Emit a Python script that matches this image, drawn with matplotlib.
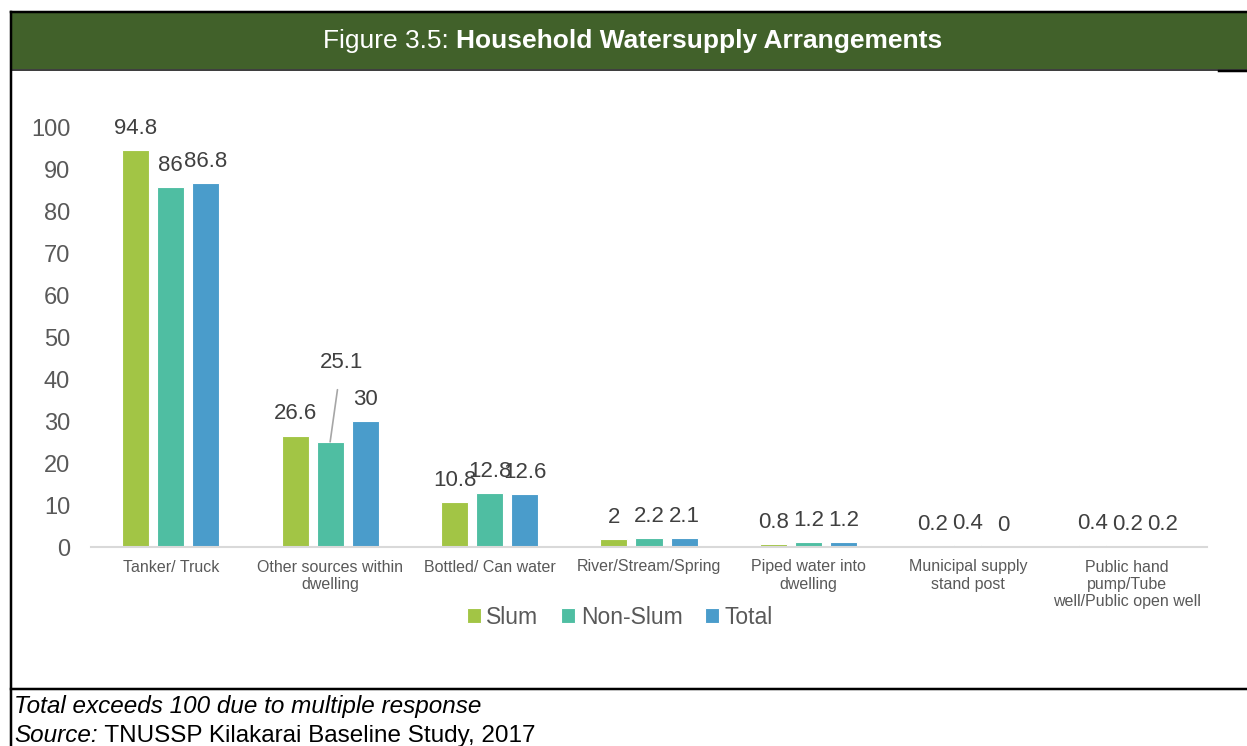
import numpy as np
import matplotlib.pyplot as plt
from matplotlib.patches import Rectangle
from matplotlib.lines import Line2D

plt.rcParams['font.family'] = ['Liberation Sans', 'DejaVu Sans']

# data
categories = ["Tanker/ Truck", "Other sources within\ndwelling", "Bottled/ Can water",
              "River/Stream/Spring", "Piped water into\ndwelling", "Municipal supply\nstand post",
              "Public hand\npump/Tube\nwell/Public open well"]
slum = [94.8, 26.6, 10.8, 2, 0.8, 0.2, 0.4]
non_slum = [86, 25.1, 12.8, 2.2, 1.2, 0.4, 0.2]
total = [86.8, 30, 12.6, 2.1, 1.2, 0, 0.2]
series_names = ["Slum", "Non-Slum", "Total"]
colors = ["#A2C545", "#4FBEA2", "#4A9CCB"]
yticks = list(range(0, 101, 10))

W, H = 1247, 746
fig = plt.figure(figsize=(W / 100, H / 100), dpi=100)


def fx(px):
    return px / W


def fy(py):
    return 1 - py / H


# header band and frame lines
fig.patches.append(Rectangle((fx(11), fy(69)), fx(1247) - fx(11), fy(12) - fy(69),
                             transform=fig.transFigure, facecolor="#41612A",
                             edgecolor="none", zorder=0))
frame = [((11, 1247), (12, 12), 2.5), ((11, 1247), (69.5, 69.5), 1.5),
         ((1219, 1247), (70.5, 70.5), 2.5), ((11, 11), (12, 746), 2.5),
         ((11, 1247), (689, 689), 2.5)]
for xs, ys, lw in frame:
    fig.lines.append(Line2D([fx(x) for x in xs], [fy(y) for y in ys], color="black",
                            linewidth=lw * 0.72, transform=fig.transFigure))

# title: regular prefix + bold part, centred together
t1 = fig.text(0, fy(41), "Figure 3.5: ", color="white", fontsize=19, va="center")
t2 = fig.text(0, fy(41), "Household Watersupply Arrangements", color="white",
              fontsize=19, fontweight="bold", va="center")
fig.canvas.draw()
r = fig.canvas.get_renderer()
w1 = t1.get_window_extent(r).width
w2 = t2.get_window_extent(r).width
x0 = (633 - (w1 + w2) / 2)
t1.set_x(fx(x0))
t2.set_x(fx(x0 + w1))

# footnotes
fig.text(fx(14), fy(706), "Total exceeds 100 due to multiple response", fontsize=17.5,
         style="italic", va="center", color="black")
s1 = fig.text(fx(14), fy(736), "Source:", fontsize=17.5, style="italic", va="center")
fig.canvas.draw()
ws = s1.get_window_extent(fig.canvas.get_renderer()).width
fig.text(fx(14 + ws), fy(736), " TNUSSP Kilakarai Baseline Study, 2017", fontsize=17.5,
         va="center")

# chart
ax = fig.add_axes([fx(91), fy(547), fx(1207) - fx(91), fy(128) - fy(547)])
x = np.arange(len(categories))
bw = 0.17
step = 0.22
for i, (vals, name, c) in enumerate(zip([slum, non_slum, total], series_names, colors)):
    pos = x + (i - 1) * step
    ax.bar(pos, vals, bw, color=c, label=name, edgecolor="white", linewidth=0.8, zorder=2)
    for j, (p, v) in enumerate(zip(pos, vals)):
        if name == "Non-Slum" and j == 1:
            ax.annotate(f"{v:g}", xy=(p, v), xytext=(8, 57), textcoords="offset points",
                        ha="center", va="center", fontsize=16, color="#404040",
                        arrowprops=dict(arrowstyle="-", color="#A6A6A6", lw=1.2,
                                        shrinkA=10, shrinkB=0))
        else:
            ax.annotate(f"{v:g}", xy=(p, v), xytext=(0, 8), textcoords="offset points",
                        ha="center", va="bottom", fontsize=16, color="#404040")

ax.set_xlim(-0.5, len(categories) - 0.5)
ax.set_ylim(0, 100)
ax.set_yticks(yticks)
ax.set_xticks(x)
ax.set_xticklabels(categories, fontsize=11.5, color="#595959")
ax.tick_params(axis="y", length=0, pad=15, labelsize=17, labelcolor="#595959")
ax.tick_params(axis="x", length=0, pad=9)
for s in ["top", "right", "left"]:
    ax.spines[s].set_visible(False)
ax.spines["bottom"].set_color("#D9D9D9")
ax.spines["bottom"].set_linewidth(1.5)
ax.spines["bottom"].set_zorder(3)

ax.legend(loc="center", bbox_to_anchor=(fx(620), fy(617)), bbox_transform=fig.transFigure,
          ncol=3, frameon=False, fontsize=16.5, handlelength=0.6, handleheight=0.6,
          handletextpad=0.25, columnspacing=1.0, labelcolor="#595959")

fig.savefig("out.png", dpi=100)
